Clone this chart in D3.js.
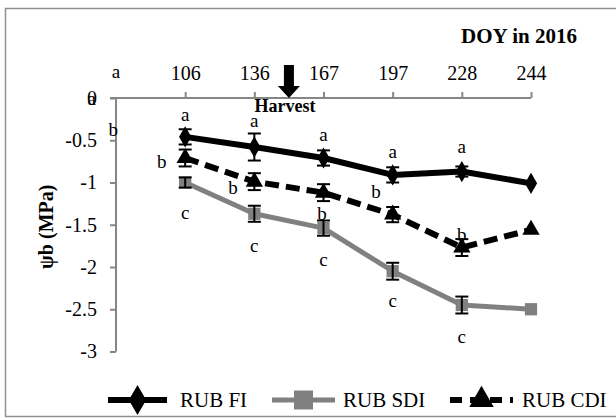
<!DOCTYPE html>
<html>
<head>
<meta charset="utf-8">
<script src="https://cdn.jsdelivr.net/npm/d3@7"></script>
<style>
  body { margin: 0; background: #fff; }
  svg { display: block; font-family: 'Liberation Serif', 'Times New Roman', serif; }
</style>
</head>
<body>
<svg id="chart" width="616" height="418"></svg>
<script>
// categories along the top axis (first slot is the empty origin)
const categories = ['', '106', '136', '167', '197', '228', '244'];
const yTicks = [0, -0.5, -1, -1.5, -2, -2.5, -3];

// bud water potential per date (index 1..6)
const fiValues  = [-0.46, -0.58, -0.71, -0.91, -0.87, -1.01];
const fiErr     = [0.09, 0.16, 0.09, 0.09, 0.06, 0];
const sdiValues = [-1.00, -1.37, -1.54, -2.05, -2.45, -2.50];
const sdiErr    = [0.06, 0.095, 0.09, 0.10, 0.10, 0];
const cdiValues = [-0.71, -0.99, -1.12, -1.38, -1.77, -1.56];
const cdiErr    = [0.10, 0.10, 0.10, 0.09, 0.10, 0];

// significance letters: [text, category index, value]
const letters = [
  ['a', 0, 0.30], ['a', -0.35, -0.02], ['b', -0.04, -0.38],
  ['a', 1, -0.20], ['a', 2, -0.28], ['a', 3, -0.44], ['a', 4, -0.64], ['a', 5, -0.58],
  ['b', 0.66, -0.76], ['b', 1.69, -1.07], ['b', 2.98, -1.38], ['b', 3.76, -1.12], ['b', 5.0, -1.62],
  ['c', 1, -1.36], ['c', 2, -1.75], ['c', 3, -1.92], ['c', 4, -2.41], ['c', 5, -2.83]
];

const series = [
  { name: 'RUB FI',  values: fiValues,  err: fiErr,  color: '#000', width: 6, dash: null,   shape: d3.symbolDiamond },
  { name: 'RUB SDI', values: sdiValues, err: sdiErr, color: '#808080', width: 5, dash: null, shape: d3.symbolSquare },
  { name: 'RUB CDI', values: cdiValues, err: cdiErr, color: '#000', width: 6, dash: '14,7', shape: d3.symbolTriangle }
];

const svg = d3.select('#chart');
const axisColor = '#868686';

// outer frame
svg.append('rect')
  .attr('x', 5.5).attr('y', 8.5).attr('width', 630).attr('height', 408)
  .attr('fill', 'none').attr('stroke', '#909090').attr('stroke-width', 1.5);

const x = d3.scaleLinear().domain([0, categories.length - 1]).range([116, 531]);
const y = d3.scaleLinear().domain([0, -3]).range([98, 351.5]);

// top category axis
const xAxis = svg.append('g')
  .attr('transform', `translate(0,${y(0)})`)
  .call(d3.axisTop(x)
    .tickValues(d3.range(1, categories.length))
    .tickFormat(i => categories[i])
    .tickSize(6).tickSizeOuter(0).tickPadding(12));

const yAxis = svg.append('g')
  .attr('transform', `translate(${x(0)},0)`)
  .call(d3.axisLeft(y)
    .tickValues(yTicks)
    .tickFormat(d => String(d))
    .tickSize(6).tickSizeOuter(0).tickPadding(13));

[xAxis, yAxis].forEach(g => {
  g.select('.domain').attr('stroke', axisColor).attr('stroke-width', 2);
  g.selectAll('.tick line').attr('stroke', axisColor).attr('stroke-width', 2);
  g.selectAll('.tick text').attr('fill', '#000')
    .style('font-family', "'Liberation Serif', serif").style('font-size', '20px');
});
xAxis.selectAll('.tick text').attr('dy', '0em');
// the y-axis tick at -3 closes the axis
yAxis.select('.domain').attr('d', `M0,${y(0)}V${y(-3)}`);
xAxis.select('.domain').attr('d', `M${-6 + x(0)},0H${x(6)}`);

// axis titles
svg.append('text')
  .attr('transform', `translate(53,${(y(0) + y(-3)) / 2 + 2}) rotate(-90)`)
  .attr('text-anchor', 'middle')
  .style('font-weight', 'bold').style('font-size', '20px')
  .text('ψb (MPa)');

svg.append('text')
  .attr('x', 577).attr('y', 43)
  .attr('text-anchor', 'end')
  .style('font-weight', 'bold').style('font-size', '21px')
  .text('DOY in 2016');

// harvest arrow between 136 and 167
const hx = x(2.5);
const hy = y(0);
svg.append('path')
  .attr('d', `M${hx - 5},${hy - 33}H${hx + 5}V${hy - 12}H${hx + 11}L${hx},${hy}L${hx - 11},${hy - 12}H${hx - 5}Z`)
  .attr('fill', '#000');
svg.append('text')
  .attr('x', hx - 4).attr('y', hy + 14)
  .attr('text-anchor', 'middle')
  .style('font-weight', 'bold').style('font-size', '18px')
  .text('Harvest');

// series lines
const line = d3.line()
  .x((d, i) => x(i + 1))
  .y(d => y(d));

series.forEach(s => {
  svg.append('path')
    .datum(s.values)
    .attr('d', line)
    .attr('fill', 'none')
    .attr('stroke', s.color)
    .attr('stroke-width', s.width)
    .attr('stroke-dasharray', s.dash)
    .attr('stroke-linejoin', 'round');
});

// markers
series.forEach(s => {
  const size = s.shape === d3.symbolSquare ? 150 : 130;
  svg.append('g').selectAll('path')
    .data(s.values)
    .join('path')
    .attr('transform', (d, i) => `translate(${x(i + 1)},${y(d)})`)
    .attr('d', d3.symbol().type(s.shape).size(size))
    .attr('fill', s.color);
});

// error bars
series.forEach(s => {
  const g = svg.append('g').attr('stroke', '#000').attr('stroke-width', 2);
  s.values.forEach((v, i) => {
    if (!s.err[i]) return;
    const cx = x(i + 1);
    const top = y(v + s.err[i]);
    const bot = y(v - s.err[i]);
    g.append('line').attr('x1', cx).attr('x2', cx).attr('y1', top).attr('y2', bot);
    g.append('line').attr('x1', cx - 6.5).attr('x2', cx + 6.5).attr('y1', top).attr('y2', top);
    g.append('line').attr('x1', cx - 6.5).attr('x2', cx + 6.5).attr('y1', bot).attr('y2', bot);
  });
});

// letters
svg.append('g').selectAll('text')
  .data(letters)
  .join('text')
  .attr('x', d => x(d[1]))
  .attr('y', d => y(d[2]))
  .attr('dy', '0.3em')
  .attr('text-anchor', 'middle')
  .style('font-size', '19px')
  .text(d => d[0]);

// legend
const legendY = 400;
const legendItems = [
  { s: series[0], x0: 108, x1: 167, tx: 180 },
  { s: series[1], x0: 272, x1: 335, tx: 343 },
  { s: series[2], x0: 450, x1: 513, tx: 522 }
];
legendItems.forEach(it => {
  const mid = (it.x0 + it.x1) / 2;
  svg.append('line')
    .attr('x1', it.x0).attr('x2', it.x1)
    .attr('y1', legendY).attr('y2', legendY)
    .attr('stroke', it.s.color).attr('stroke-width', it.s.width)
    .attr('stroke-dasharray', it.s.dash ? '12,8' : null);
  svg.append('path')
    .attr('transform', `translate(${mid},${legendY})`)
    .attr('d', d3.symbol().type(it.s.shape).size(it.s.shape === d3.symbolSquare ? 360 : 260))
    .attr('fill', it.s.color);
  svg.append('text')
    .attr('x', it.tx).attr('y', legendY + 7)
    .style('font-size', '21px')
    .text(it.s.name);
});
</script>
</body>
</html>
